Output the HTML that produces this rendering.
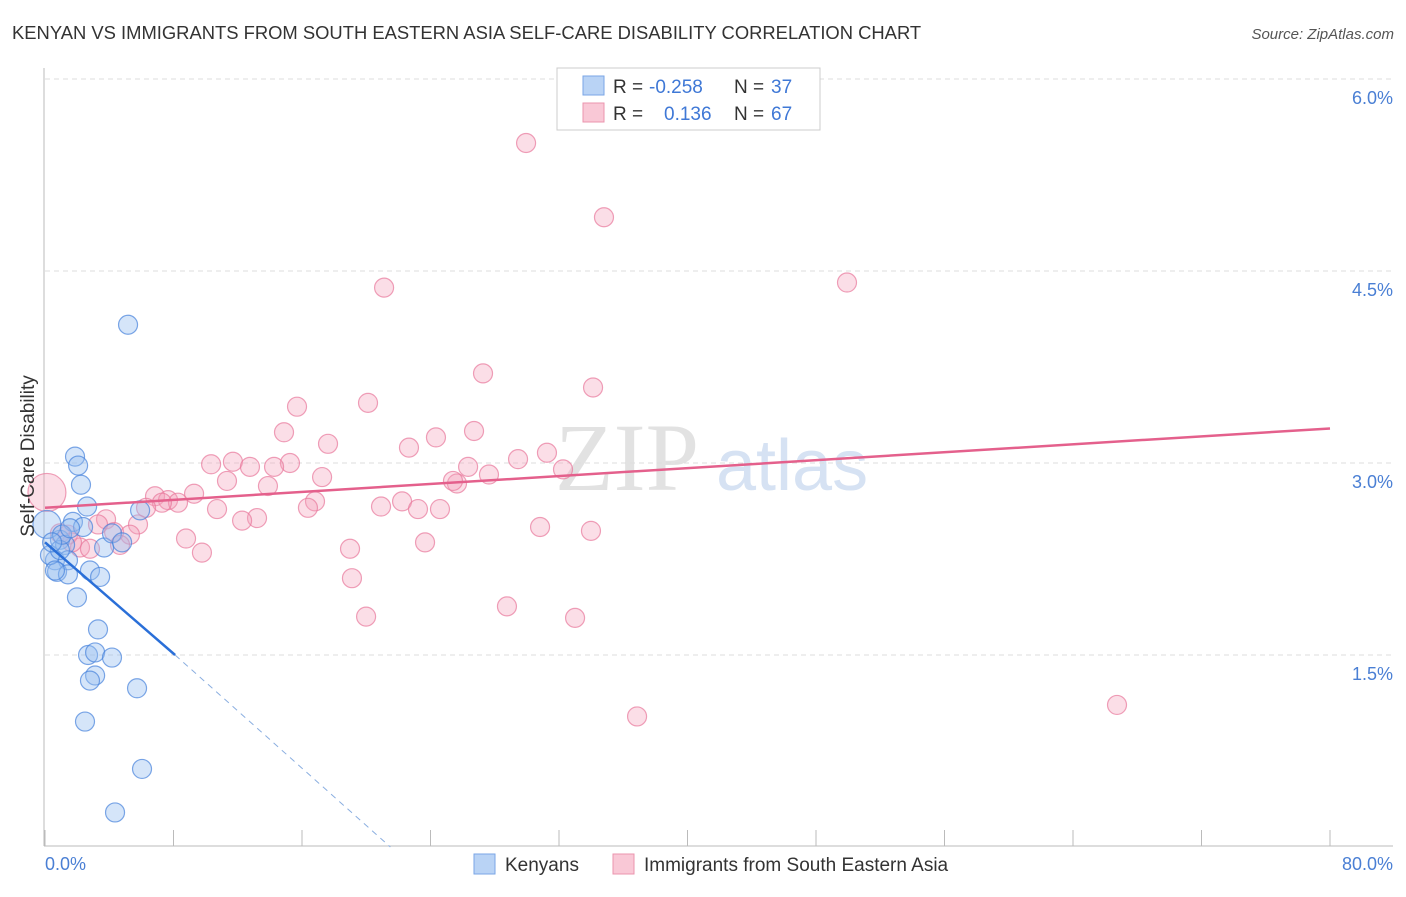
<!DOCTYPE html>
<html><head><meta charset="utf-8"><style>
body{margin:0;background:#fff;font-family:"Liberation Sans",sans-serif}
</style></head><body>
<svg width="1406" height="892" viewBox="0 0 1406 892" xmlns="http://www.w3.org/2000/svg">
<text x="12" y="39" font-size="18.4" fill="#333">KENYAN VS IMMIGRANTS FROM SOUTH EASTERN ASIA SELF-CARE DISABILITY CORRELATION CHART</text>
<text x="1394" y="39" font-size="15" fill="#555" font-style="italic" text-anchor="end">Source: ZipAtlas.com</text>
<text x="555" y="490" font-size="96" font-family="Liberation Serif,serif" fill="#e2e2e2">ZIP</text>
<text x="716" y="490" font-size="72" fill="#d6e2f3">atlas</text>
<g id="grid"></g><g id="axes"></g><g id="pink"></g><g id="blue"></g><g id="lines"></g>
<text transform="translate(34,456) rotate(-90)" font-size="19" fill="#333" text-anchor="middle">Self-Care Disability</text>
<text x="45" y="870" font-size="18" fill="#4a7fd4">0.0%</text>
<text x="1393" y="870" font-size="18" fill="#4a7fd4" text-anchor="end">80.0%</text>
<g>
<rect x="557" y="68" width="263" height="62" fill="#fff" stroke="#ccc"/>
<rect x="583" y="76" width="21" height="19" fill="#b9d3f5" stroke="#7aa6e6"/>
<rect x="583" y="103" width="21" height="19" fill="#f9c8d6" stroke="#eb94ae"/>
<text x="613" y="93" font-size="19" fill="#333">R = </text><text x="649" y="93" font-size="19" fill="#3f78d6">-0.258</text>
<text x="734" y="93" font-size="19" fill="#333">N = </text><text x="771" y="93" font-size="19" fill="#3f78d6">37</text>
<text x="613" y="120" font-size="19" fill="#333">R = </text><text x="664" y="120" font-size="19" fill="#3f78d6">0.136</text>
<text x="734" y="120" font-size="19" fill="#333">N = </text><text x="771" y="120" font-size="19" fill="#3f78d6">67</text>
</g>
<g>
<rect x="474" y="854" width="21" height="20" fill="#b9d3f5" stroke="#7aa6e6"/>
<text x="505" y="871" font-size="19" fill="#333">Kenyans</text>
<rect x="613" y="854" width="21" height="20" fill="#f9c8d6" stroke="#eb94ae"/>
<text x="644" y="871" font-size="19" fill="#333">Immigrants from South Eastern Asia</text>
</g>
</svg>
<script>
const yTicks=[1.5,3.0,4.5,6.0];
const yTickLabels=["1.5%","3.0%","4.5%","6.0%"];
const xTicks=[0,8,16,24,32,40,48,56,64,72,80];
const blueX=[5.17,1.87,2.06,2.24,2.62,1.74,2.37,0.93,1.25,0.62,1.43,0.75,1.43,2.80,3.43,3.68,4.17,4.80,5.92,1.99,3.30,2.68,3.12,4.17,3.12,2.80,5.73,2.49,6.04,4.36,0.12,0.31,0.93,0.62,1.06,1.56,0.44];
const blueY=[4.08,3.05,2.98,2.83,2.66,2.54,2.50,2.40,2.36,2.24,2.24,2.15,2.13,2.16,2.11,2.34,2.45,2.38,2.63,1.95,1.70,1.50,1.52,1.48,1.34,1.30,1.24,0.98,0.61,0.27,2.52,2.28,2.32,2.16,2.44,2.49,2.38];
const blueBig=[30];
const pinkX=[29.95,34.80,49.93,21.11,27.27,34.12,20.11,15.69,26.71,14.88,24.34,17.62,22.66,31.25,29.45,10.34,11.70,12.76,15.25,14.26,26.34,32.25,27.64,17.25,11.33,13.88,25.65,25.40,16.81,9.28,6.85,7.66,8.28,7.28,6.29,10.71,20.92,22.23,23.22,24.59,16.37,13.20,12.27,3.80,3.30,5.79,4.30,5.29,30.82,33.99,8.78,23.66,18.99,2.18,2.80,9.77,19.11,28.76,19.99,33.00,36.86,66.74,0.12,1.43,1.68,0.93,4.67];
const pinkY=[5.50,4.92,4.41,4.37,3.70,3.59,3.47,3.44,3.25,3.24,3.20,3.15,3.12,3.08,3.03,2.99,3.01,2.97,3.00,2.97,2.97,2.95,2.91,2.89,2.86,2.82,2.84,2.86,2.70,2.76,2.74,2.71,2.69,2.69,2.65,2.64,2.66,2.70,2.64,2.64,2.65,2.57,2.55,2.56,2.52,2.52,2.46,2.44,2.50,2.47,2.41,2.38,2.33,2.34,2.33,2.30,2.10,1.88,1.80,1.79,1.02,1.11,2.77,2.44,2.38,2.45,2.36];
const pinkBig=[62];
const pinkTrend=[[0,2.65],[80,3.27]];
const blueTrend=[[0,2.38],[8.1,1.50]];
const blueTrendExt=[[8.1,1.50],[21.5,0]];
const NS="http://www.w3.org/2000/svg";
const X=v=>45+v*1285/80, Y=v=>847-v*128;
function mk(p,t,a){const e=document.createElementNS(NS,t);for(const k in a)e.setAttribute(k,a[k]);document.getElementById(p).appendChild(e);return e;}
yTicks.forEach((t,i)=>{
 const l=mk('grid','line',{x1:45,x2:1393,y1:Y(t),y2:Y(t),stroke:'#ddd','stroke-dasharray':'5,4'});
 
 
 const tx=mk('grid','text',{x:1393,y:Y(t)+25,'font-size':18,fill:'#4a7fd4','text-anchor':'end'});
 tx.textContent=yTickLabels[i];
 
 
});
let a=mk('axes','line',{x1:44,x2:44,y1:68,y2:846,stroke:'#bbb'});


a=mk('axes','line',{x1:44,x2:1393,y1:846,y2:846,stroke:'#bbb'});


xTicks.forEach(t=>{const l=mk('axes','line',{x1:X(t),x2:X(t),y1:830,y2:846,stroke:'#bbb'});
 
 });
pinkX.forEach((x,i)=>{const big=pinkBig.includes(i);
 const c=mk('pink','circle',{cx:X(x),cy:Y(pinkY[i]),r:big?19:9.5,fill:'rgba(244,160,185,0.35)',stroke:'rgba(232,120,155,0.7)','stroke-width':1.2});
 
 });
blueX.forEach((x,i)=>{const big=blueBig.includes(i);
 const c=mk('blue','circle',{cx:X(x),cy:Y(blueY[i]),r:big?14:9.5,fill:'rgba(150,190,240,0.4)',stroke:'rgba(70,130,220,0.7)','stroke-width':1.2});
 
 });
let t=mk('lines','line',{x1:X(pinkTrend[0][0]),y1:Y(pinkTrend[0][1]),x2:X(pinkTrend[1][0]),y2:Y(pinkTrend[1][1]),stroke:'#e4608c','stroke-width':2.5});


t=mk('lines','line',{x1:X(blueTrend[0][0]),y1:Y(blueTrend[0][1]),x2:X(blueTrend[1][0]),y2:Y(blueTrend[1][1]),stroke:'#2a6fd8','stroke-width':2.5});


t=mk('lines','line',{x1:X(blueTrendExt[0][0]),y1:Y(blueTrendExt[0][1]),x2:X(blueTrendExt[1][0]),y2:Y(blueTrendExt[1][1]),stroke:'#8aaee0','stroke-width':1,'stroke-dasharray':'6,5'});


</script>
</body></html>
